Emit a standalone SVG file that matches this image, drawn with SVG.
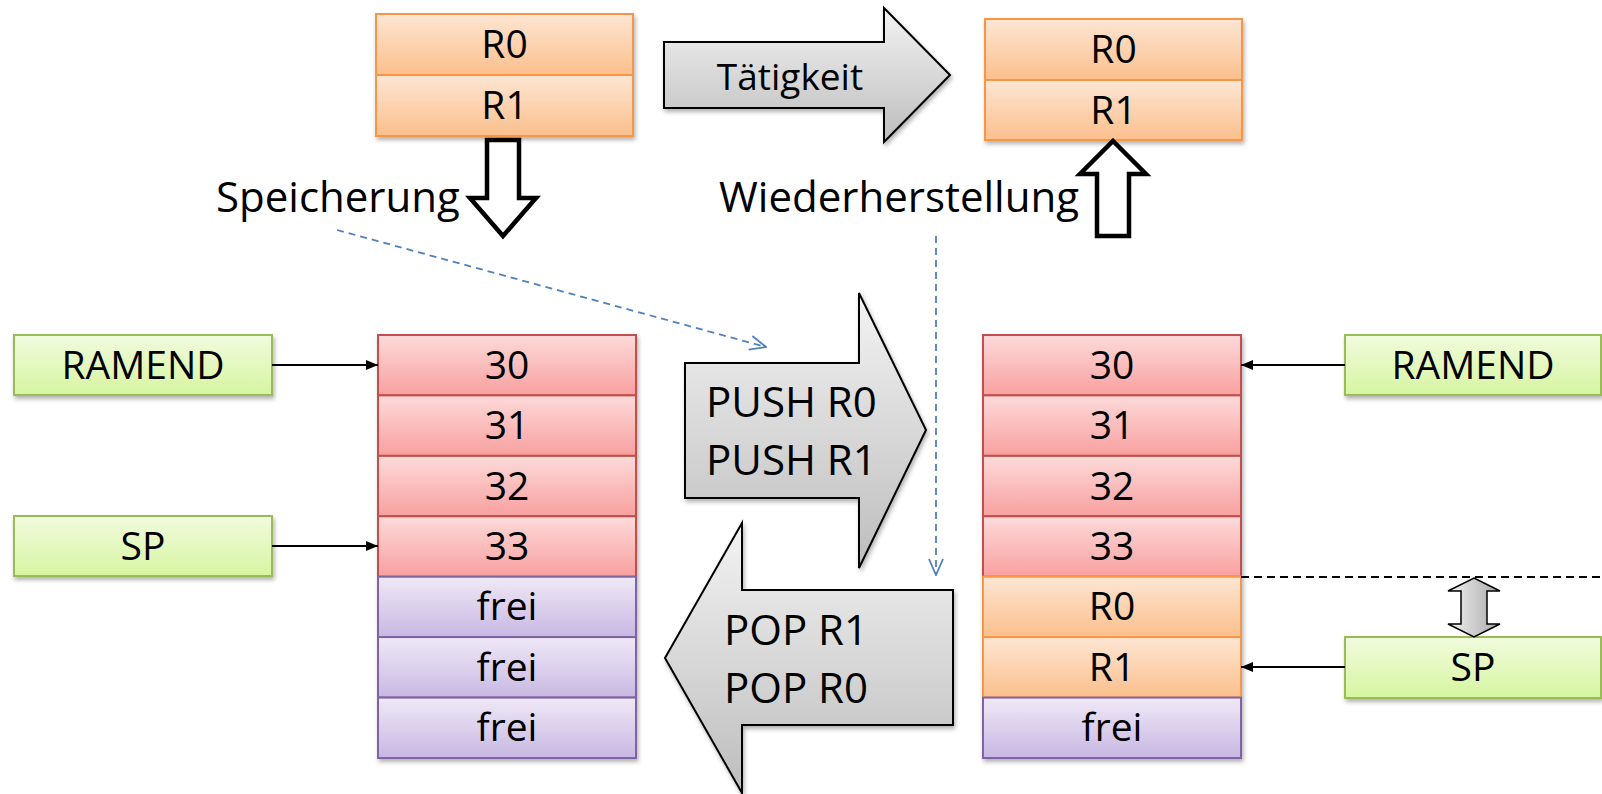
<svg xmlns="http://www.w3.org/2000/svg" width="1602" height="794" viewBox="0 0 1602 794">
<defs>
<linearGradient id="gOrange" x1="0" y1="0" x2="0" y2="1"><stop offset="0" stop-color="#fde6d4"/><stop offset="1" stop-color="#fbbf8c"/></linearGradient>
<linearGradient id="gRed" x1="0" y1="0" x2="0" y2="1"><stop offset="0" stop-color="#fddada"/><stop offset="1" stop-color="#f8a09f"/></linearGradient>
<linearGradient id="gPurple" x1="0" y1="0" x2="0" y2="1"><stop offset="0" stop-color="#efe9f7"/><stop offset="1" stop-color="#c8b7e2"/></linearGradient>
<linearGradient id="gGreen" x1="0" y1="0" x2="0" y2="1"><stop offset="0" stop-color="#f1fbde"/><stop offset="1" stop-color="#d6f5a0"/></linearGradient>
<linearGradient id="gGray" x1="0" y1="0" x2="0" y2="1"><stop offset="0" stop-color="#f3f3f3"/><stop offset="1" stop-color="#bdbdbd"/></linearGradient>
<linearGradient id="gGrayH" x1="0" y1="0" x2="1" y2="0"><stop offset="0" stop-color="#f3f3f3"/><stop offset="1" stop-color="#a8a8a8"/></linearGradient>
<filter id="sh" x="-10%" y="-10%" width="130%" height="140%"><feDropShadow dx="1.5" dy="3" stdDeviation="2" flood-color="#000" flood-opacity="0.3"/></filter>
<marker id="mBlack" viewBox="0 0 12 10" refX="12" refY="5" markerWidth="12" markerHeight="10" markerUnits="userSpaceOnUse" orient="auto"><path d="M0,0 L12,5 L0,10 Z" fill="#000"/></marker>
<marker id="mBlue" viewBox="0 0 18 16" refX="17" refY="8" markerWidth="18" markerHeight="16" markerUnits="userSpaceOnUse" orient="auto"><path d="M1,1 L17,8 L1,15" fill="none" stroke="#4f81bd" stroke-width="1.8"/></marker>
</defs>
<style>
text{font-family:"Open Sans","Noto Sans","Liberation Sans",sans-serif;fill:#000}
.lbl{font-size:39px;text-anchor:middle}
.big{font-size:42px}
.or{fill:url(#gOrange);stroke:#f79646;stroke-width:2}
.rd{fill:url(#gRed);stroke:#c0504d;stroke-width:2}
.pu{fill:url(#gPurple);stroke:#8064a2;stroke-width:2}
.gr{fill:url(#gGreen);stroke:#9bbb59;stroke-width:2}
.ga{fill:url(#gGray);stroke:#000;stroke-width:2}
.hol{fill:#fff;stroke:#000;stroke-width:4.5;stroke-linejoin:miter}
.con{stroke:#000;stroke-width:2;fill:none}
.blue{stroke:#4f81bd;stroke-width:1.8;fill:none;stroke-dasharray:7 5}
</style>

<g id="regs-before" filter="url(#sh)">
<rect class="or" x="376" y="14" width="257" height="61"/>
<rect class="or" x="376" y="75" width="257" height="61"/>
</g>
<g id="regs-before-text"><text class="lbl" x="504.5" y="58">R0</text><text class="lbl" x="504.5" y="119">R1</text></g>

<g id="taetigkeit">
<polygon class="ga" filter="url(#sh)" points="664,42 884,42 884,8 950,75 884,142 884,108 664,108"/>
<text x="790" y="90" style="font-size:37px;text-anchor:middle">Tätigkeit</text>
</g>

<g id="regs-after" filter="url(#sh)">
<rect class="or" x="985" y="19" width="257" height="61"/>
<rect class="or" x="985" y="80" width="257" height="60"/>
</g>
<g id="regs-after-text"><text class="lbl" x="1113.5" y="63">R0</text><text class="lbl" x="1113.5" y="124">R1</text></g>

<g id="speicherung">
<text class="big" x="216" y="212">Speicherung</text>
<polygon class="hol" points="487,140 519,140 519,198 536,198 503,236 470,198 487,198"/>
</g>

<g id="wiederherstellung">
<text class="big" x="719" y="212">Wiederherstellung</text>
<polygon class="hol" points="1113,141 1146,174 1129,174 1129,236 1097,236 1097,174 1080,174"/>
</g>

<g id="stack-left" filter="url(#sh)">
<rect class="rd" x="378" y="335" width="258" height="60.4"/>
<rect class="rd" x="378" y="395.4" width="258" height="60.4"/>
<rect class="rd" x="378" y="455.9" width="258" height="60.4"/>
<rect class="rd" x="378" y="516.3" width="258" height="60.4"/>
<rect class="pu" x="378" y="576.7" width="258" height="60.4"/>
<rect class="pu" x="378" y="637.1" width="258" height="60.4"/>
<rect class="pu" x="378" y="697.6" width="258" height="60.4"/>
</g>
<g id="stack-left-text">
<text class="lbl" x="507" y="379">30</text>
<text class="lbl" x="507" y="439">31</text>
<text class="lbl" x="507" y="500">32</text>
<text class="lbl" x="507" y="560">33</text>
<text class="lbl" x="507" y="620">frei</text>
<text class="lbl" x="507" y="681">frei</text>
<text class="lbl" x="507" y="741">frei</text>
</g>

<g id="stack-right" filter="url(#sh)">
<rect class="rd" x="983" y="335" width="258" height="60.4"/>
<rect class="rd" x="983" y="395.4" width="258" height="60.4"/>
<rect class="rd" x="983" y="455.9" width="258" height="60.4"/>
<rect class="rd" x="983" y="516.3" width="258" height="60.4"/>
<rect class="or" x="983" y="576.7" width="258" height="60.4"/>
<rect class="or" x="983" y="637.1" width="258" height="60.4"/>
<rect class="pu" x="983" y="697.6" width="258" height="60.4"/>
</g>
<g id="stack-right-text">
<text class="lbl" x="1112" y="379">30</text>
<text class="lbl" x="1112" y="439">31</text>
<text class="lbl" x="1112" y="500">32</text>
<text class="lbl" x="1112" y="560">33</text>
<text class="lbl" x="1112" y="620">R0</text>
<text class="lbl" x="1112" y="681">R1</text>
<text class="lbl" x="1112" y="741">frei</text>
</g>

<g id="ramend-left"><rect class="gr" filter="url(#sh)" x="14" y="335" width="258" height="60"/><text class="lbl" x="143" y="379">RAMEND</text></g>
<g id="sp-left"><rect class="gr" filter="url(#sh)" x="14" y="516" width="258" height="60"/><text class="lbl" x="143" y="560">SP</text></g>
<g id="ramend-right"><rect class="gr" filter="url(#sh)" x="1345" y="335" width="256" height="60"/><text class="lbl" x="1473" y="379">RAMEND</text></g>
<g id="sp-right"><rect class="gr" filter="url(#sh)" x="1345" y="637" width="256" height="61"/><text class="lbl" x="1473" y="681">SP</text></g>

<g id="push">
<polygon class="ga" filter="url(#sh)" points="685,363 859,363 859,293 926,430 859,568 859,498 685,498"/>
<text class="big" x="706" y="417">PUSH R0</text>
<text class="big" x="706" y="475">PUSH R1</text>
</g>

<g id="pop">
<polygon class="ga" filter="url(#sh)" points="953,590 742,590 742,523 665,658 742,793 742,725 953,725"/>
<text class="big" x="724" y="645">POP R1</text>
<text class="big" x="724" y="703">POP R0</text>
</g>

<g id="sp-move">
<polygon fill="url(#gGrayH)" stroke="#000" stroke-width="1.5" points="1474,578 1500,591 1487,591 1487,624 1500,624 1474,637 1448,624 1461,624 1461,591 1448,591"/>
</g>

<g id="connectors">
<line class="con" x1="272" y1="365" x2="378" y2="365" marker-end="url(#mBlack)"/>
<line class="con" x1="272" y1="546" x2="378" y2="546" marker-end="url(#mBlack)"/>
<line class="con" x1="1345" y1="365" x2="1241" y2="365" marker-end="url(#mBlack)"/>
<line class="con" x1="1345" y1="667" x2="1241" y2="667" marker-end="url(#mBlack)"/>
<line x1="1241" y1="577" x2="1602" y2="577" stroke="#000" stroke-width="2" stroke-dasharray="8 5"/>
<line class="blue" x1="337" y1="230" x2="766" y2="347" marker-end="url(#mBlue)"/>
<line class="blue" x1="936" y1="236" x2="936" y2="575" marker-end="url(#mBlue)"/>
</g>
</svg>
